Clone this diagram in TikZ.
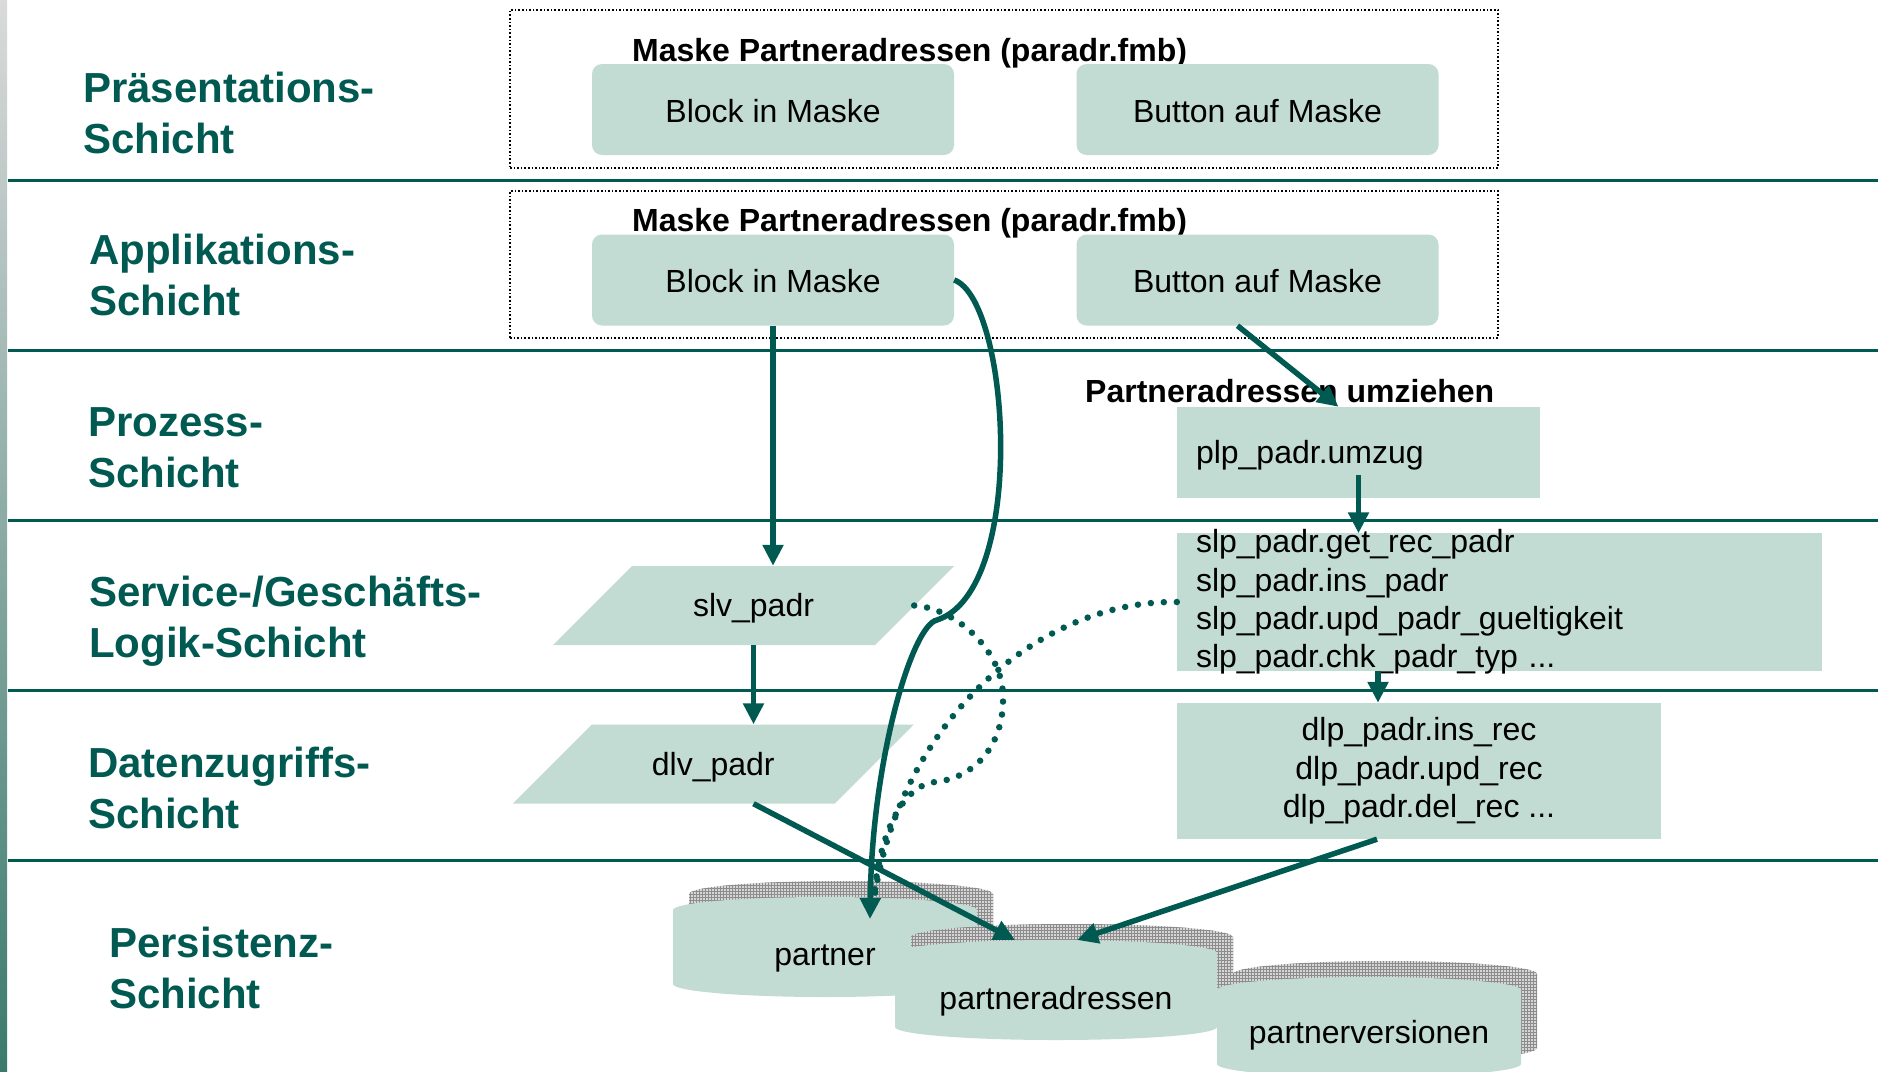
\documentclass[tikz,border=0pt]{standalone}
\usepackage{fontspec}
\setmainfont{Liberation Sans}
\usetikzlibrary{arrows.meta,patterns}

\definecolor{layerteal}{RGB}{0,90,82}
\definecolor{boxfill}{RGB}{194,220,211}
\definecolor{gridback}{RGB}{214,214,214}
\definecolor{gridline}{RGB}{140,140,140}
\definecolor{barlight}{RGB}{218,218,218}
\definecolor{bardark}{RGB}{58,122,108}

\begin{document}
\begin{tikzpicture}[x=1pt,y=-1pt,
  layer/.style={anchor=base west, align=left, inner sep=0pt, text=layerteal,
    font=\fontsize{42}{51}\selectfont\bfseries},
  sep/.style={draw=layerteal, line width=3pt},
  frame/.style={draw=black, dotted, line width=1.6pt, inner sep=0pt},
  title/.style={anchor=base west, inner sep=0pt, font=\fontsize{32}{38}\selectfont\bfseries},
  rbox/.style={fill=boxfill, rounded corners=10pt, minimum width=362pt, minimum height=91pt,
    text height=25pt, text depth=0pt, inner sep=0pt, font=\fontsize{32}{38}\selectfont},
  sbox/.style={fill=boxfill, inner sep=0pt, font=\fontsize{32}{38.4}\selectfont},
  para/.style={fill=white, minimum width=401pt, minimum height=79pt, inner sep=0pt,
    text height=25pt, text depth=3pt, font=\fontsize{32}{38}\selectfont,
    path picture={\fill[boxfill] ([xshift=79pt]path picture bounding box.north west)
      -- (path picture bounding box.north east)
      -- ([xshift=-79pt]path picture bounding box.south east)
      -- (path picture bounding box.south west) -- cycle;}},
  dbtext/.style={anchor=base, inner sep=0pt, font=\fontsize{32}{38}\selectfont},
  flow/.style={draw=layerteal, line width=5.5pt, -{Triangle[width=20pt,length=21pt]}},
  dots/.style={draw=layerteal, line width=6.5pt, line cap=round, dash pattern=on 0pt off 13pt},
]
% canvas
\useasboundingbox (0,0) rectangle (1878,1071);
\fill[white] (0,0) rectangle (1878,1071);
\shade[top color=barlight, bottom color=bardark] (0,0) rectangle (7,1071);

% layer separators
\foreach \y in {180,350,520,690,860}
  \draw[sep] (8,\y) -- (1878,\y);

% layer names (anchored at the baseline of the second line)
\node[layer] (lpres) at (83,153)  {Präsentations-\\Schicht};
\node[layer] (lapp)  at (89,315)  {Applikations-\\Schicht};
\node[layer] (lproc) at (88,487)  {Prozess-\\Schicht};
\node[layer] (lserv) at (89,657)  {Service-/Geschäfts-\\Logik-Schicht};
\node[layer] (ldata) at (88,828)  {Datenzugriffs-\\Schicht};
\node[layer] (lpers) at (109,1008) {Persistenz-\\Schicht};

% mask frames
\node[frame, minimum width=988pt, minimum height=158pt] (maskpres) at (1004,89) {};
\node[frame, minimum width=988pt, minimum height=147pt] (maskapp) at (1004,264.5) {};
\node[title] (titlepres) at (632,61) {Maske Partneradressen (paradr.fmb)};
\node[title] (titleapp) at (632,231) {Maske Partneradressen (paradr.fmb)};

\node[rbox] (blockpres)  at (773,109.5)  {Block in Maske};
\node[rbox] (buttonpres) at (1257.5,109.5) {Button auf Maske};
\node[rbox] (blockapp)   at (773,280)    {Block in Maske};
\node[rbox] (buttonapp)  at (1257.5,280) {Button auf Maske};

% process layer
\node[title] (umzug) at (1085,402) {Partneradressen umziehen};
\node[sbox, minimum width=363pt, minimum height=91pt, text width=325pt, align=left,
  text height=23pt, text depth=2pt] (plp) at (1358.5,452.5) {plp\_padr.umzug};

% service layer
\node[sbox, text width=607pt, inner xsep=19pt, inner ysep=-4pt, align=left] (slp) at (1499.5,602)
  {slp\_padr.get\_rec\_padr\\slp\_padr.ins\_padr\\slp\_padr.upd\_padr\_gueltigkeit\\slp\_padr.chk\_padr\_typ ...};
\node[para] (slv) at (753.5,605.5) {slv\_padr};

% data access layer
\node[para] (dlv) at (713.25,764) {dlv\_padr};
\node[sbox, minimum width=484pt, minimum height=136pt, align=center,
  font=\fontsize{32}{38.5}\selectfont] (dlp) at (1419,771)
  {dlp\_padr.ins\_rec\\dlp\_padr.upd\_rec\\dlp\_padr.del\_rec ...};

% persistence layer: tables with hatched shadows
\foreach \x/\w/\t/\b in {673/304/910/984, 895/322/953/1027, 1217/304/990/1064} {
  \begin{scope}[shift={(16,-16)}]
    \fill[gridback] (\x,\t) .. controls (\x,\t-7.2) and (\x+\w*0.224,\t-13) .. (\x+\w*0.5,\t-13)
      .. controls (\x+\w*0.776,\t-13) and (\x+\w,\t-7.2) .. (\x+\w,\t) -- (\x+\w,\b)
      .. controls (\x+\w,\b+7.2) and (\x+\w*0.776,\b+13) .. (\x+\w*0.5,\b+13)
      .. controls (\x+\w*0.224,\b+13) and (\x,\b+7.2) .. (\x,\b) -- cycle;
    \fill[pattern=grid, pattern color=gridline] (\x,\t) .. controls (\x,\t-7.2) and (\x+\w*0.224,\t-13) .. (\x+\w*0.5,\t-13)
      .. controls (\x+\w*0.776,\t-13) and (\x+\w,\t-7.2) .. (\x+\w,\t) -- (\x+\w,\b)
      .. controls (\x+\w,\b+7.2) and (\x+\w*0.776,\b+13) .. (\x+\w*0.5,\b+13)
      .. controls (\x+\w*0.224,\b+13) and (\x,\b+7.2) .. (\x,\b) -- cycle;
  \end{scope}
  \fill[boxfill] (\x,\t) .. controls (\x,\t-7.2) and (\x+\w*0.224,\t-13) .. (\x+\w*0.5,\t-13)
    .. controls (\x+\w*0.776,\t-13) and (\x+\w,\t-7.2) .. (\x+\w,\t) -- (\x+\w,\b)
    .. controls (\x+\w,\b+7.2) and (\x+\w*0.776,\b+13) .. (\x+\w*0.5,\b+13)
    .. controls (\x+\w*0.224,\b+13) and (\x,\b+7.2) .. (\x,\b) -- cycle;
}
\node[dbtext] (partner) at (825,965) {partner};
\node[dbtext] (padressen) at (1056,1009) {partneradressen};
\node[dbtext] (pversionen) at (1369,1043) {partnerversionen};

\coordinate (partner in) at (870,919);
\coordinate (partner dots) at (874,900);
\coordinate (pa in left) at (1015,940);
\coordinate (pa in right) at (1077,940);

% call connections
\draw[flow] (blockapp.south) -- (blockapp.south |- slv.north);
\draw[flow] (slv.south) -- (slv.south |- dlv.north);
\draw[flow] (slv.south |- dlv.south) -- (pa in left);
\draw[flow] ([xshift=-20pt]buttonapp.south) -- ([xshift=-20pt]plp.north);
\draw[flow] ([yshift=23pt]plp.south) -- (plp.south |- slp.north);
\draw[flow] ([xshift=-121.5pt]slp.south) -- ([xshift=-41pt]dlp.north);
\draw[flow] ([xshift=-42pt]dlp.south) -- (pa in right);
\draw[flow] (blockapp.east) .. controls (1010,300) and (1028,590) .. (937,620)
  .. controls (912,625) and (872,760) .. (partner in);

% indirect accesses
\draw[dots] ([xshift=-40pt]slv.east) .. controls (955,608) and (1003,650) .. (1003,697)
  .. controls (1004,745) and (975,778) .. (935,782)
  .. controls (900,786) and (878,840) .. (partner dots);
\draw[dots] (slp.west) .. controls (1040,600) and (900,720) .. (partner dots);
\end{tikzpicture}
\end{document}
